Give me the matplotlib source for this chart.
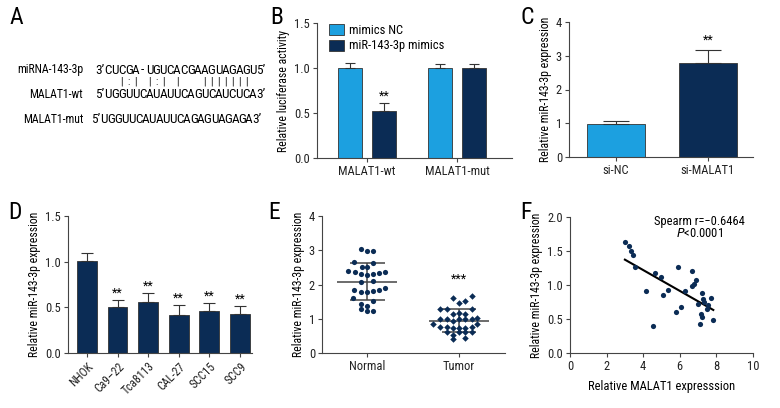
import numpy as np
import matplotlib as mpl
import matplotlib.pyplot as plt
from matplotlib.patches import Patch
from matplotlib import font_manager

# pick a narrow sans if one is installed
names = {f.name for f in font_manager.fontManager.ttflist}
narrow = [n for n in ["Roboto Condensed", "Liberation Sans Narrow", "Roboto"] if n in names]

mpl.rcParams.update({
    "font.family": narrow + ["DejaVu Sans"],
    "font.size": 9,
    "axes.linewidth": 0.8,
    "axes.edgecolor": "#444444",
    "xtick.color": "#444444",
    "ytick.color": "#444444",
    "xtick.labelcolor": "#222222",
    "ytick.labelcolor": "#222222",
    "xtick.major.size": 3,
    "ytick.major.size": 3,
    "xtick.labelsize": 9,
    "ytick.labelsize": 9,
    "axes.labelsize": 8.5,
})

LIGHT = "#1ca0e0"
DARK = "#0b2c55"
EDGE = "#333333"

# ---- data ----
# A: sequence alignment
mirna_seq = "CUCGA-UGUCACGAAGUAGAGU"
wt_seq = "UGGUUCAUAUUCAGUCAUCUCA"
mut_seq = "UGGUUCAUAUUCAGAGUAGAGA"
pairing = "  |:| |:| |   ||||||| "

# B: luciferase
groups_b = ["MALAT1-wt", "MALAT1-mut"]
nc_b = [1.0, 1.0]
nc_b_err = [0.06, 0.04]
mim_b = [0.52, 1.0]
mim_b_err = [0.09, 0.05]
stars_b_mim = ["**", ""]

# C: si-MALAT1
groups_c = ["si-NC", "si-MALAT1"]
vals_c = [0.97, 2.80]
errs_c = [0.11, 0.38]
stars_c = ["", "**"]

# D: cell lines
cells_d = ["NHOK", "Ca9–22", "Tca8113", "CAL-27", "SCC15", "SCC9"]
vals_d = [1.01, 0.50, 0.56, 0.42, 0.46, 0.43]
errs_d = [0.08, 0.08, 0.10, 0.11, 0.09, 0.09]
stars_d = ["", "**", "**", "**", "**", "**"]

# E: tissues (jitter offsets in category units)
normal_y = [3.04, 2.98, 2.99, 2.66, 2.62, 2.52, 2.50, 2.40, 2.36, 2.32, 2.29,
            2.30, 2.33, 2.37, 2.08, 2.09, 1.84, 1.79, 1.78, 1.82, 1.85, 1.89,
            1.62, 1.53, 1.43, 1.38, 1.28, 1.23, 1.23]
normal_dx = [-0.07, 0.0, 0.06, -0.14, 0.07, -0.06, 0.0, -0.21, -0.13, -0.07, 0.0,
             0.07, 0.13, 0.20, -0.07, 0.07, -0.14, -0.07, 0.0, 0.07, 0.13, 0.19,
             -0.15, 0.07, -0.065, 0.0, -0.07, 0.0, 0.06]
tumor_y = [1.60, 1.67, 1.45, 1.51, 1.28, 1.28, 1.28, 1.14, 1.16, 1.13,
           0.99, 0.99, 0.94, 0.98, 0.98, 0.98, 1.02,
           0.84, 0.75, 0.75, 0.74, 0.74, 0.74, 0.77, 0.84,
           0.60, 0.53, 0.60, 0.60, 0.62, 0.41, 0.45]
tumor_dx = [-0.07, 0.14, 0.0, 0.065, -0.21, -0.13, 0.14, -0.07, 0.0, 0.065,
            -0.21, -0.13, -0.07, 0.0, 0.065, 0.14, 0.20,
            -0.28, -0.21, -0.13, -0.07, 0.0, 0.065, 0.14, 0.20,
            -0.13, -0.07, 0.0, 0.065, 0.14, -0.07, 0.065]
groups_e = ["Normal", "Tumor"]

# F: correlation
malat_x = [3.00, 3.22, 3.31, 3.42, 3.55, 4.13, 4.51, 4.67, 4.95, 5.09, 5.37,
           5.78, 5.91, 6.04, 6.31, 6.67, 6.67, 6.78, 6.91, 7.00, 7.13, 7.18,
           7.22, 7.22, 7.27, 7.33, 7.46, 7.55, 7.70, 7.83]
mir_y = [1.63, 1.57, 1.50, 1.44, 1.26, 0.91, 0.40, 1.17, 1.12, 0.85, 0.92,
         0.60, 1.26, 0.68, 0.91, 1.21, 0.98, 1.01, 1.08, 0.72, 0.43, 0.58,
         0.53, 0.88, 0.79, 0.75, 0.65, 0.71, 0.81, 0.48]

W, H = 780, 408
fig = plt.figure(figsize=(W / 100, H / 100), dpi=100)


def rect(l, t, r, b):
    return [l / W, 1 - b / H, (r - l) / W, (b - t) / H]


def fxy(x, y):
    return x / W, 1 - y / H


def style(ax):
    ax.spines["top"].set_visible(False)
    ax.spines["right"].set_visible(False)
    ax.tick_params(length=3, width=0.8, pad=2)


def letter(x, y, s):
    fig.text(*fxy(x, y), s, fontsize=17, ha="left", va="center")


# ---- A ----
letter(10, 18, "A")
pitch = 6.9
rows = [
    ("miRNA-143-3p", "3’", mirna_seq, "5’", 70, 108),
    ("MALAT1-wt", "5’", wt_seq, "3’", 95, 108),
    ("MALAT1-mut", "5’", mut_seq, "3’", 119, 104),
]
for label, p5, seq, p3, y, x0 in rows:
    fig.text(*fxy(83, y), label, fontsize=8.5, ha="right", va="center")
    fig.text(*fxy(x0 - 3.3, y), p5, fontsize=9.5, ha="right", va="center")
    for i, ch in enumerate(seq):
        fig.text(*fxy(x0 + pitch * i, y), ch, fontsize=9.5, ha="center", va="center")
    fig.text(*fxy(x0 + pitch * (len(seq) - 1) + 3.3, y), p3, fontsize=9.5,
             ha="left", va="center")
for i, ch in enumerate(pairing):
    if ch.strip():
        fig.text(*fxy(108 + pitch * i, 82), ch, fontsize=7, ha="center",
                 va="center")

# ---- B ----
letter(270, 18, "B")
ax = fig.add_axes(rect(317, 23, 512, 158))
xb = np.arange(len(groups_b))
bw = 0.267
ax.bar(xb - 0.19, nc_b, bw, color=LIGHT, edgecolor=EDGE, linewidth=0.6,
       yerr=[np.zeros(len(nc_b)), nc_b_err], capsize=3.5,
       error_kw=dict(elinewidth=0.8, capthick=0.8, ecolor=EDGE))
ax.bar(xb + 0.19, mim_b, bw, color=DARK, edgecolor=EDGE, linewidth=0.6,
       yerr=[np.zeros(len(mim_b)), mim_b_err], capsize=3.5,
       error_kw=dict(elinewidth=0.8, capthick=0.8, ecolor=EDGE))
for i, s in enumerate(stars_b_mim):
    if s:
        ax.text(xb[i] + 0.19, mim_b[i] + mim_b_err[i] + 0.01, s, ha="center",
                va="bottom", fontsize=9)
ax.set_xlim(-0.556, 1.61)
ax.set_ylim(0, 1.5)
ax.set_yticks([0, 0.5, 1.0, 1.5])
ax.set_yticklabels(["0.0", "0.5", "1.0", "1.5"])
ax.set_xticks(xb)
ax.set_xticklabels(groups_b)
ax.set_ylabel("Relative luciferase activity", labelpad=3)
style(ax)
ax.legend(handles=[Patch(facecolor=LIGHT, edgecolor=EDGE, linewidth=0.6, label="mimics NC"),
                   Patch(facecolor=DARK, edgecolor=EDGE, linewidth=0.6, label="miR-143-3p mimics")],
          loc="upper left", bbox_to_anchor=(0.035, 1.03), frameon=False,
          handlelength=1.2, handleheight=1.0, handletextpad=0.4,
          labelspacing=0.2, borderaxespad=0, fontsize=9)

# ---- C ----
letter(520, 18, "C")
ax = fig.add_axes(rect(569, 22, 753, 157))
xc = np.arange(len(groups_c))
ax.bar(xc, vals_c, 0.63, color=[LIGHT, DARK], edgecolor=EDGE, linewidth=0.6,
       yerr=[np.zeros(len(vals_c)), errs_c], capsize=9.5,
       error_kw=dict(elinewidth=0.8, capthick=0.8, ecolor=EDGE))
for i, s in enumerate(stars_c):
    if s:
        ax.text(xc[i], vals_c[i] + errs_c[i] + 0.1, s, ha="center",
                va="bottom", fontsize=9)
ax.set_xlim(-0.51, 1.49)
ax.set_ylim(0, 4)
ax.set_yticks([0, 1, 2, 3, 4])
ax.set_xticks(xc)
ax.set_xticklabels(groups_c)
ax.set_ylabel("Relative miR-143-3p expression", labelpad=3)
style(ax)

# ---- D ----
letter(8, 212, "D")
ax = fig.add_axes(rect(68, 216, 252, 353))
xd = np.arange(len(cells_d))
ax.bar(xd, vals_d, 0.65, color=DARK, edgecolor=EDGE, linewidth=0.6,
       yerr=[np.zeros(len(vals_d)), errs_d], capsize=4.5,
       error_kw=dict(elinewidth=0.8, capthick=0.8, ecolor=EDGE))
for i, s in enumerate(stars_d):
    if s:
        ax.text(xd[i], vals_d[i] + errs_d[i] + 0.0, s, ha="center",
                va="bottom", fontsize=9)
ax.set_xlim(-0.62, 5.4)
ax.set_ylim(0, 1.5)
ax.set_yticks([0, 0.5, 1.0, 1.5])
ax.set_yticklabels(["0.0", "0.5", "1.0", "1.5"])
ax.set_xticks(xd)
ax.set_xticklabels(cells_d, rotation=45, ha="right", rotation_mode="anchor",
                   fontsize=8.5)
ax.set_ylabel("Relative miR-143-3p expression", labelpad=3)
style(ax)

# ---- E ----
letter(268, 212, "E")
ax = fig.add_axes(rect(322, 216, 505, 353))
for i, (ys, dxs, mk, ms) in enumerate([(normal_y, normal_dx, "o", 14),
                                        (tumor_y, tumor_dx, "D", 11)]):
    ys = np.array(ys)
    ax.scatter(i + np.array(dxs), ys, s=ms, marker=mk, color=DARK,
               linewidths=0, zorder=3)
    m, sd = ys.mean(), ys.std(ddof=1)
    ax.hlines(m, i - 0.33, i + 0.33, color="#444444", lw=1.1, zorder=2)
    ax.hlines([m - sd, m + sd], i - 0.19, i + 0.19, color="#444444", lw=1.1,
              zorder=2)
    ax.vlines(i, m - sd, m + sd, color="#444444", lw=1.1, zorder=2)
ax.text(1, max(tumor_y) + 0.3, "***", ha="center", va="bottom", fontsize=9)
ax.set_xlim(-0.49, 1.5)
ax.set_ylim(0, 4)
ax.set_yticks([0, 1, 2, 3, 4])
ax.set_xticks([0, 1])
ax.set_xticklabels(groups_e)
ax.set_ylabel("Relative miR-143-3p expression", labelpad=3)
style(ax)

# ---- F ----
letter(520, 212, "F")
ax = fig.add_axes(rect(570, 217, 753, 353))
mx, my = np.array(malat_x), np.array(mir_y)
ax.scatter(mx, my, s=14, color=DARK, linewidths=0, zorder=3)
k, b = np.polyfit(mx, my, 1)
xl = np.array([mx.min(), mx.max()])
ax.plot(xl, k * xl + b, color="black", lw=1.5, zorder=2)
ax.text(7.1, 1.93, "Spearm r=−0.6464", ha="center", va="center", fontsize=9)
ax.text(7.1, 1.76, "$\\it{P}$<0.0001", ha="center", va="center", fontsize=9)
ax.set_xlim(0, 10)
ax.set_ylim(0, 2)
ax.set_xticks([0, 2, 4, 6, 8, 10])
ax.set_yticks([0, 0.5, 1.0, 1.5, 2.0])
ax.set_yticklabels(["0.0", "0.5", "1.0", "1.5", "2.0"])
ax.set_xlabel("Relative MALAT1 expresssion", labelpad=5, fontsize=9)
ax.set_ylabel("Relative miR-143-3p expression", labelpad=3)
style(ax)

fig.savefig("out.png", dpi=100)
